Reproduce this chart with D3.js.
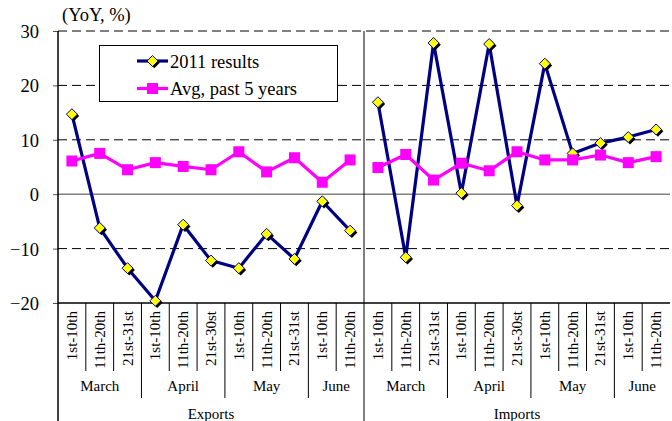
<!DOCTYPE html>
<html><head><meta charset="utf-8">
<script src="https://cdn.jsdelivr.net/npm/d3@7"></script>
<style>
body{margin:0;background:#fff;}
svg{display:block;}
svg text{font-family:"Liberation Serif","Times New Roman",serif;}
</style></head>
<body><svg id="c" width="672" height="421"></svg>
<script>
const groups = ["Exports", "Imports"];
const months = ["March", "April", "May", "June"];
const monthCounts = [3, 3, 3, 2];
const periods = ["1st-10th","11th-20th","21st-31st","1st-10th","11th-20th","21st-30st","1st-10th","11th-20th","21st-31st","1st-10th","11th-20th"];
const yTicks = [-20, -10, 0, 10, 20, 30];
const seriesNames = ["2011 results", "Avg, past 5 years"];
const exports2011 = [14.7, -6.2, -13.6, -19.6, -5.6, -12.2, -13.6, -7.3, -11.9, -1.3, -6.7];
const exportsAvg  = [6.1, 7.5, 4.5, 5.8, 5.1, 4.5, 7.8, 4.1, 6.7, 2.2, 6.3];
const imports2011 = [16.9, -11.6, 27.8, 0.2, 27.6, -2.1, 24.0, 7.5, 9.4, 10.5, 11.9];
const importsAvg  = [4.9, 7.3, 2.6, 5.7, 4.3, 7.8, 6.3, 6.3, 7.2, 5.8, 6.9];

const svg = d3.select("#c");
const FF = "Liberation Serif";
const L = 58, R = 670, T = 31, B = 303;
const nPer = periods.length;
const idx = d3.range(groups.length * nPer);
const x = d3.scaleBand().domain(idx).range([L, R]).padding(0);
const y = d3.scaleLinear().domain([-20, 30]).range([B, T]);
const bw = x.bandwidth();

// gridlines
svg.append("g").selectAll("line").data(yTicks.filter(d => d !== -20 && d !== 0)).join("line")
  .attr("x1", L).attr("x2", R).attr("y1", d => y(d)).attr("y2", d => y(d))
  .attr("stroke", "#000").attr("stroke-width", 1).attr("stroke-dasharray", "9,5");
svg.append("line").attr("x1", L).attr("x2", R).attr("y1", y(0)).attr("y2", y(0))
  .attr("stroke", "#808080").attr("stroke-width", 1.5);

// y axis
const yAxis = d3.axisLeft(y).tickValues(yTicks).tickSize(5).tickPadding(14);
const ya = svg.append("g").attr("transform", `translate(${L},0)`).call(yAxis)
  .attr("font-family", FF).attr("font-size", 18.5);
ya.select(".domain").remove();
ya.selectAll(".tick line").attr("stroke", "#555");
ya.selectAll(".tick text").attr("fill", "#000").attr("dy", "0.35em");
svg.append("line").attr("x1", L).attr("x2", L).attr("y1", T).attr("y2", 421).attr("stroke", "#000").attr("stroke-width", 1.5);
svg.append("line").attr("x1", L).attr("x2", R).attr("y1", B).attr("y2", B).attr("stroke", "#000").attr("stroke-width", 1.5);
svg.append("text").attr("x", 62).attr("y", 21).attr("font-family", FF).attr("font-size", 18.5).text("(YoY, %)");

// category axis
const catG = svg.append("g").attr("font-family", FF);
idx.forEach(i => {
  const p = i % nPer;
  if (i > 0 && p !== 0) {
    let monthStart = false, acc = 0;
    monthCounts.forEach(c => { acc += c; if (acc === p) monthStart = true; });
    catG.append("line").attr("x1", x(i)).attr("x2", x(i)).attr("y1", B).attr("y2", monthStart ? 398 : 371)
      .attr("stroke", "#000").attr("stroke-width", 1);
  }
  const cx = x(i) + bw / 2;
  catG.append("text").attr("transform", `translate(${cx + 5},311) rotate(-90)`)
    .attr("text-anchor", "end").attr("font-size", 15).text(periods[p]);
});
groups.forEach((g, gi) => {
  let acc = 0;
  months.forEach((m, mi) => {
    const i0 = gi * nPer + acc, i1 = i0 + monthCounts[mi] - 1;
    const cx = (x(i0) + x(i1) + bw) / 2;
    catG.append("text").attr("x", cx).attr("y", 391).attr("text-anchor", "middle").attr("font-size", 15).text(m);
    acc += monthCounts[mi];
  });
  const gx = (x(gi * nPer) + x(gi * nPer + nPer - 1) + bw) / 2;
  catG.append("text").attr("x", gx).attr("y", 419).attr("text-anchor", "middle").attr("font-size", 15).text(g);
});
const divX = x(nPer);
svg.append("line").attr("x1", divX).attr("x2", divX).attr("y1", T).attr("y2", 421).attr("stroke", "#000").attr("stroke-width", 1);

// series
const navy = "#000080", mag = "#FF00FF";
const line = d3.line().x(d => x(d.i) + bw / 2).y(d => y(d.v));
function panelData(arr, gi) { return arr.map((v, k) => ({ i: gi * nPer + k, v })); }
const s2011 = [panelData(exports2011, 0), panelData(imports2011, 1)];
const sAvg = [panelData(exportsAvg, 0), panelData(importsAvg, 1)];
const diamond = (cx, cy, r) => `M${cx},${cy - r}L${cx + r},${cy}L${cx},${cy + r}L${cx - r},${cy}Z`;

s2011.forEach(d => {
  svg.append("path").datum(d).attr("d", line).attr("fill", "none").attr("stroke", navy).attr("stroke-width", 3.2).attr("stroke-linejoin", "round");
});
s2011.forEach(d => {
  const g = svg.append("g");
  g.selectAll("path.sh").data(d).join("path").attr("class", "sh")
    .attr("d", p => diamond(x(p.i) + bw / 2 + 1.8, y(p.v) + 1.8, 5.5)).attr("fill", "#000");
  g.selectAll("path.mk").data(d).join("path").attr("class", "mk")
    .attr("d", p => diamond(x(p.i) + bw / 2, y(p.v), 5.5)).attr("fill", "#FFFF00").attr("stroke", navy).attr("stroke-width", 1);
});
sAvg.forEach(d => {
  svg.append("path").datum(d).attr("d", line).attr("fill", "none").attr("stroke", mag).attr("stroke-width", 3.2).attr("stroke-linejoin", "round");
  svg.append("g").selectAll("rect").data(d).join("rect")
    .attr("x", p => x(p.i) + bw / 2 - 5.5).attr("y", p => y(p.v) - 5.5).attr("width", 11).attr("height", 11).attr("fill", mag);
});

// legend
const lg = svg.append("g").attr("font-family", FF);
lg.append("rect").attr("x", 99.5).attr("y", 45.5).attr("width", 238).attr("height", 56).attr("fill", "#fff").attr("stroke", "#000").attr("stroke-width", 1);
[0, 1].forEach(k => {
  const ly = k === 0 ? 61 : 88.5;
  const col = k === 0 ? navy : mag;
  lg.append("line").attr("x1", 137).attr("x2", 168).attr("y1", ly).attr("y2", ly).attr("stroke", col).attr("stroke-width", 3.2);
  if (k === 0) {
    lg.append("path").attr("d", diamond(152.5 + 1.8, ly + 1.8, 5.5)).attr("fill", "#000");
    lg.append("path").attr("d", diamond(152.5, ly, 5.5)).attr("fill", "#FFFF00").attr("stroke", navy);
  } else {
    lg.append("rect").attr("x", 152.5 - 5.5).attr("y", ly - 5.5).attr("width", 11).attr("height", 11).attr("fill", mag);
  }
  lg.append("text").attr("x", 170).attr("y", ly + 6.5).attr("font-size", 18.5).text(seriesNames[k]);
});
</script></body></html>
